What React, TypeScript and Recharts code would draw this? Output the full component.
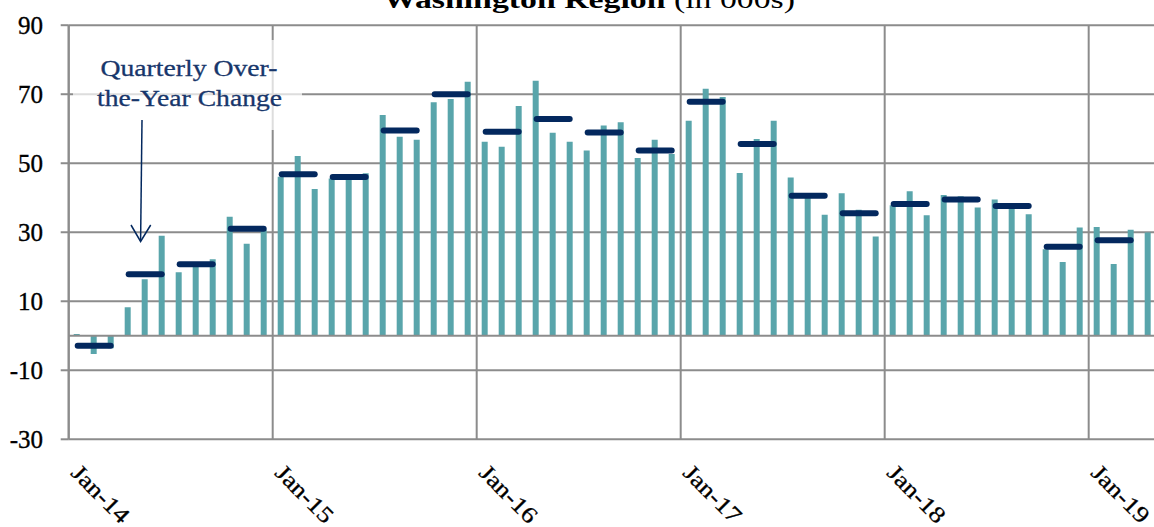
import { Bar, CartesianGrid, ComposedChart, Line, ReferenceLine, XAxis, YAxis } from 'recharts'

// monthly over-the-year change, Jan-14 .. Apr-19 (000s)
const MONTHLY = [
  0.5, -5.3, -3.6, 8.3, 16.4, 29.0, 18.4, 20.0, 22.2, 34.5, 26.7, 30.7,
  46.1, 52.1, 42.5, 45.6, 46.0, 47.1, 64.0, 57.7, 56.8, 67.7, 68.6, 73.6,
  56.2, 54.8, 66.6, 73.9, 58.8, 56.2, 53.7, 60.9, 61.9, 51.5, 56.8, 52.7,
  62.3, 71.6, 69.2, 47.2, 57.0, 62.3, 45.9, 40.5, 35.1, 41.3, 36.5, 28.8,
  37.8, 41.9, 34.9, 40.8, 40.4, 37.2, 39.5, 37.4, 35.2, 25.1, 21.4, 31.4,
  31.5, 20.8, 30.7, 29.9,
]

// quarterly over-the-year change, Q1-14 .. Q1-19
const QUARTERLY = [
  -2.9, 17.8, 20.7, 31.0,
  46.8, 46.0, 59.5, 70.0,
  59.1, 62.8, 58.9, 53.7,
  67.8, 55.6, 40.6, 35.5,
  38.2, 39.5, 37.6, 25.8,
  27.7,
]

const YEAR_TICKS = [0, 12, 24, 36, 48, 60]
const YEAR_LABELS = ['Jan-14', 'Jan-15', 'Jan-16', 'Jan-17', 'Jan-18', 'Jan-19']
const Y_TICKS = [-30, -10, 10, 30, 50, 70, 90]

const TEAL = '#59a5ab'
const NAVY = '#03285e'
const GRID = '#8c8c8c'
const FONT = '"Liberation Serif", serif'

const data = MONTHLY.map((v, i) => ({
  x: i + 0.5,
  v,
  q: i % 3 === 1 ? QUARTERLY[(i - 1) / 3] ?? null : null,
}))

function QuarterDash(props: any) {
  const { cx, cy, value, index } = props
  if (value == null || cx == null || cy == null) return <g key={index} />
  return (
    <line
      key={index}
      x1={cx - 16.5}
      x2={cx + 16.5}
      y1={cy}
      y2={cy}
      stroke={NAVY}
      strokeWidth={6}
      strokeLinecap="round"
    />
  )
}

function YTick({ y, payload }: any) {
  return (
    <text
      x={43}
      y={y + 8.5}
      textAnchor="end"
      fontFamily={FONT}
      fontSize={25}
      fill="#000"
      stroke="#000"
      strokeWidth={0.35}
    >
      {payload.value}
    </text>
  )
}

function XTick({ x, payload }: any) {
  const label = YEAR_LABELS[YEAR_TICKS.indexOf(payload.value)]
  return (
    <text
      transform={`translate(${x + 1},${474}) rotate(45)`}
      textAnchor="start"
      fontFamily={FONT}
      fontSize={23}
      textLength={72}
      lengthAdjust="spacingAndGlyphs"
      fill="#000"
      stroke="#000"
      strokeWidth={0.3}
    >
      {label}
    </text>
  )
}

function Overlay() {
  return (
    <svg
      width={1154}
      height={527}
      style={{ position: 'absolute', top: 0, left: 0, pointerEvents: 'none' }}
    >
      <text x={383} y={7.5} fontFamily={FONT} fontSize={26} textLength={412} lengthAdjust="spacingAndGlyphs" fill="#000">
        <tspan fontWeight="bold">Washington Region</tspan>
        <tspan> (in 000s)</tspan>
      </text>
      <rect x={73} y={40} width={229} height={90} fill="#fff" fillOpacity={0.7} />
      <g fontFamily={FONT} fontSize={23} fill="#17366b" stroke="#17366b" strokeWidth={0.3} textAnchor="middle">
        <text x={189} y={76} textLength={177} lengthAdjust="spacingAndGlyphs">Quarterly Over-</text>
        <text x={189.5} y={106} textLength={185} lengthAdjust="spacingAndGlyphs">the-Year Change</text>
      </g>
      <g stroke={NAVY} strokeWidth={1.5} fill="none">
        <line x1={142} y1={120} x2={140.6} y2={241} />
        <polyline points="131,225 140.6,241.5 150.7,225" />
      </g>
    </svg>
  )
}

export default function App() {
  return (
    <div style={{ position: 'absolute', top: 0, left: 0, width: 1154, height: 527, overflow: 'hidden', background: '#fff' }}>
      <ComposedChart
        width={1156.7}
        height={527}
        data={data}
        margin={{ top: 25.2, right: 0, bottom: 7.7, left: 8.7 }}
      >
        <CartesianGrid stroke={GRID} strokeWidth={2} />
        <XAxis
          dataKey="x"
          type="number"
          domain={[0, 64]}
          ticks={YEAR_TICKS}
          axisLine={false}
          tickLine={false}
          tick={<XTick />}
          height={80}
          allowDataOverflow
        />
        <YAxis
          domain={[-30, 90]}
          ticks={Y_TICKS}
          width={60}
          axisLine={{ stroke: GRID, strokeWidth: 2 }}
          tickLine={{ stroke: GRID, strokeWidth: 2 }}
          tickSize={8}
          tick={<YTick />}
          allowDataOverflow
        />
        <ReferenceLine y={0} stroke={GRID} strokeWidth={2} />
        <Bar dataKey="v" fill={TEAL} barSize={6} isAnimationActive={false} />
        <Line
          dataKey="q"
          stroke="none"
          dot={QuarterDash}
          activeDot={false}
          legendType="none"
          isAnimationActive={false}
        />
      </ComposedChart>
      <Overlay />
    </div>
  )
}
